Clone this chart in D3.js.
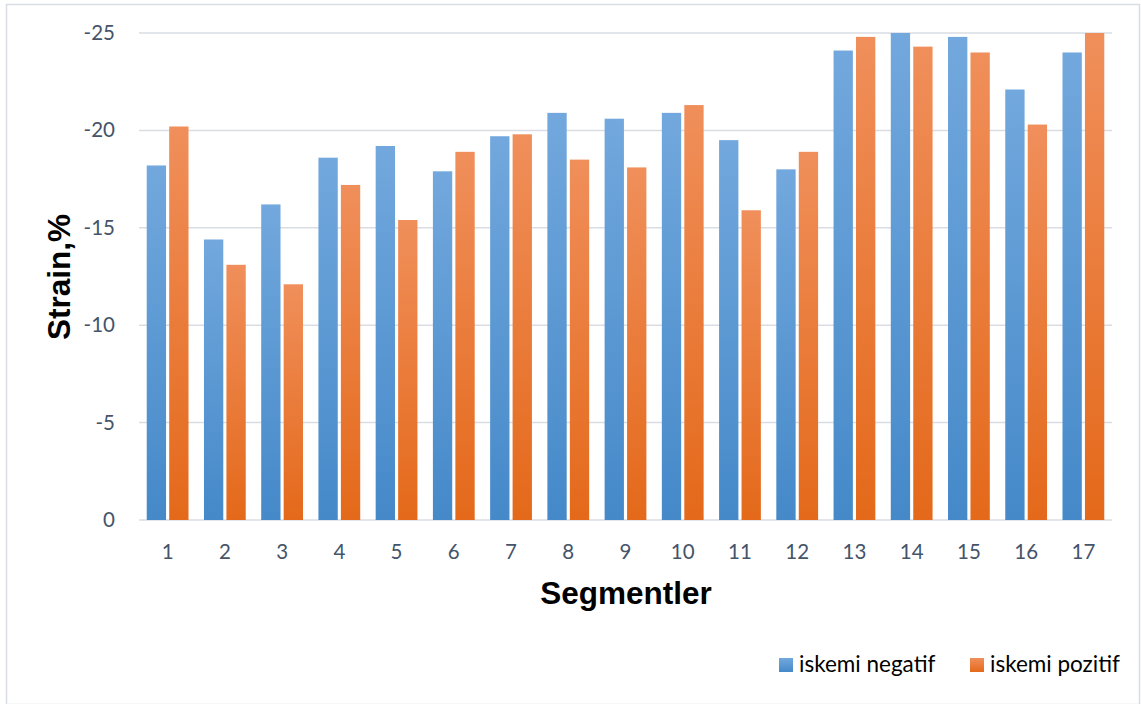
<!DOCTYPE html>
<html>
<head>
<meta charset="utf-8">
<script src="https://cdn.jsdelivr.net/npm/d3@7"></script>
<style>
  body { margin: 0; background: #fff; }
  #chart { width: 1141px; height: 704px; }
</style>
</head>
<body>
<div id="chart"></div>
<script>
// data
const segments = ["1", "2", "3", "4", "5", "6", "7", "8", "9", "10", "11", "12", "13", "14", "15", "16", "17"];
const negatif = [-18.2, -14.4, -16.2, -18.6, -19.2, -17.9, -19.7, -20.9, -20.6, -20.9, -19.5, -18.0, -24.1, -25.0, -24.8, -22.1, -24.0];
const pozitif = [-20.2, -13.1, -12.1, -17.2, -15.4, -18.9, -19.8, -18.5, -18.1, -21.3, -15.9, -18.9, -24.8, -24.3, -24.0, -20.3, -25.0];
const seriesNames = ["iskemi negatif", "iskemi pozitif"];
const yTicks = [0, -5, -10, -15, -20, -25];

const width = 1141;
const height = 704;
const margin = { top: 33, left: 139, right: 29, bottom: 184 };

const svg = d3.select("#chart")
    .append("svg")
    .attr("width", width)
    .attr("height", height);

// gradients for the bars
const defs = svg.append("defs");
const grads = [
    { id: "gBlue", top: "#72a8dd", bottom: "#4589c9" },
    { id: "gOrange", top: "#f08f5b", bottom: "#e4691a" }
];
grads.forEach(g => {
    const lg = defs.append("linearGradient")
        .attr("id", g.id)
        .attr("x1", 0).attr("y1", 0).attr("x2", 0).attr("y2", 1);
    lg.append("stop").attr("offset", "0%").attr("stop-color", g.top);
    lg.append("stop").attr("offset", "100%").attr("stop-color", g.bottom);
});

// outer border
svg.append("rect")
    .attr("x", 6.5).attr("y", 4.5)
    .attr("width", 1133).attr("height", 700)
    .attr("fill", "none")
    .attr("stroke", "#d9dde3")
    .attr("stroke-width", 1.5);

const x0 = d3.scaleBand()
    .domain(segments)
    .range([margin.left, width - margin.right])
    .paddingInner(0.27)
    .paddingOuter(0.135);

const x1 = d3.scaleBand()
    .domain(seriesNames)
    .range([0, x0.bandwidth()])
    .paddingInner(0.14);

const y = d3.scaleLinear()
    .domain([0, -25])
    .range([height - margin.bottom, margin.top]);

// gridlines
svg.append("g")
    .selectAll("line")
    .data(yTicks)
    .join("line")
    .attr("x1", margin.left)
    .attr("x2", width - margin.right)
    .attr("y1", d => y(d))
    .attr("y2", d => y(d))
    .attr("stroke", "#d9dde3")
    .attr("stroke-width", 1.5);

// y tick labels (plain hyphen, like the original)
const yAxis = d3.axisLeft(y).tickValues(yTicks).tickSize(0).tickPadding(24)
    .tickFormat(d => String(d));
const gy = svg.append("g")
    .attr("transform", `translate(${margin.left},0)`)
    .call(yAxis);
gy.select(".domain").remove();
gy.selectAll("text")
    .attr("fill", "#44546a")
    .attr("font-family", "Lato, 'Open Sans', sans-serif")
    .attr("font-size", 20.5);

// x tick labels
const xAxis = d3.axisBottom(x0).tickSize(0).tickPadding(24);
const gx = svg.append("g")
    .attr("transform", `translate(0,${height - margin.bottom})`)
    .call(xAxis);
gx.select(".domain").remove();
gx.selectAll("text")
    .attr("fill", "#44546a")
    .attr("font-family", "Lato, 'Open Sans', sans-serif")
    .attr("font-size", 20.5);

// bars
const rows = segments.map((s, i) => ({ seg: s, vals: [negatif[i], pozitif[i]] }));
const groups = svg.append("g")
    .selectAll("g")
    .data(rows)
    .join("g")
    .attr("transform", d => `translate(${x0(d.seg)},0)`);

groups.selectAll("rect")
    .data(d => d.vals.map((v, k) => ({ name: seriesNames[k], v: v, k: k })))
    .join("rect")
    .attr("x", d => x1(d.name))
    .attr("width", x1.bandwidth())
    .attr("y", d => y(d.v))
    .attr("height", d => y(0) - y(d.v))
    .attr("fill", d => `url(#${grads[d.k].id})`);

// axis titles
svg.append("text")
    .attr("transform", "translate(70,277) rotate(-90)")
    .attr("text-anchor", "middle")
    .attr("font-family", "'Liberation Sans', Arial, sans-serif")
    .attr("font-weight", "bold")
    .attr("font-size", 31.5)
    .attr("fill", "#000")
    .text("Strain,%");

svg.append("text")
    .attr("x", 626)
    .attr("y", 604)
    .attr("text-anchor", "middle")
    .attr("font-family", "'Liberation Sans', Arial, sans-serif")
    .attr("font-weight", "bold")
    .attr("font-size", 31.5)
    .attr("fill", "#000")
    .text("Segmentler");

// legend
const legendX = [779, 970];
const legend = svg.append("g")
    .selectAll("g")
    .data(seriesNames)
    .join("g")
    .attr("transform", (d, i) => `translate(${legendX[i]},658)`);

legend.append("rect")
    .attr("width", 14)
    .attr("height", 14)
    .attr("fill", (d, i) => `url(#${grads[i].id})`);

legend.append("text")
    .attr("x", 20)
    .attr("y", 14)
    .attr("font-family", "Lato, 'Open Sans', sans-serif")
    .attr("font-size", 22.5)
    .attr("fill", "#000")
    .text(d => d);
</script>
</body>
</html>
